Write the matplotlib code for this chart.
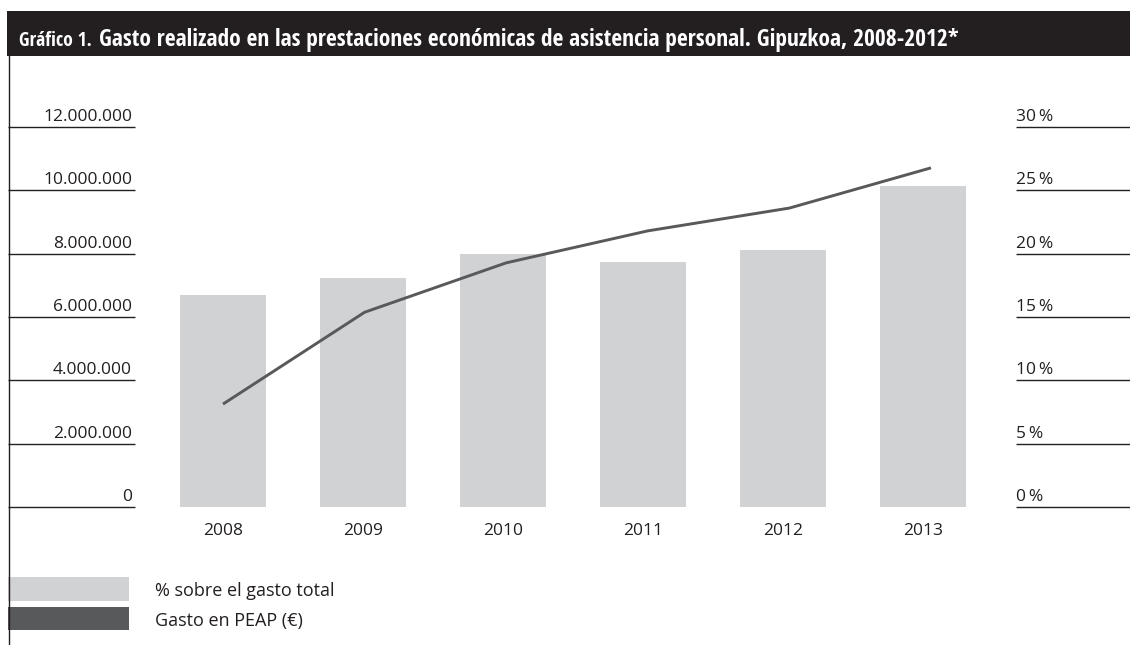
import matplotlib.pyplot as plt
from matplotlib import font_manager as fm
from matplotlib.patches import Rectangle
from matplotlib.lines import Line2D
from matplotlib.transforms import offset_copy

plt.rcParams['font.family'] = ['Open Sans', 'DejaVu Sans']

years = ['2008', '2009', '2010', '2011', '2012', '2013']
pct_total = [16.74, 18.08, 19.97, 19.34, 20.29, 25.34]
gasto_peap = [3250000, 6150000, 7710000, 8720000, 9440000, 10710000]

left_ticks = [0, 2000000, 4000000, 6000000, 8000000, 10000000, 12000000]
left_labels = ['0', '2.000.000', '4.000.000', '6.000.000', '8.000.000', '10.000.000', '12.000.000']
right_ticks = [0, 5, 10, 15, 20, 25, 30]
right_labels = ['0\u2009%', '5\u2009%', '10\u2009%', '15\u2009%', '20\u2009%', '25\u2009%', '30\u2009%']

title_small = 'Gráfico 1.'
title_main = 'Gasto realizado en las prestaciones económicas de asistencia personal. Gipuzkoa, 2008-2012*'
legend_labels = ['% sobre el gasto total', 'Gasto en PEAP (€)']

W, H = 1130, 645
ink = '#231f20'
bar_col = '#d1d2d4'
line_col = '#58595b'

# condensed face for the title if one is around
installed = {f.name for f in fm.fontManager.ttflist}
title_font = 'Open Sans'
for cand in ['Open Sans Condensed', 'Roboto Condensed', 'Liberation Sans Narrow',
             'Noto Sans Condensed', 'DejaVu Sans Condensed']:
    if cand in installed:
        title_font = cand
        break

fig = plt.figure(figsize=(W / 100, H / 100), dpi=100)

# plot area in pixels: x 8..1130, y 127 (top) .. 507 (zero)
y_top, y_zero = 127, 507
rect = [8 / W, (H - y_zero) / H, (W - 8) / W, (y_zero - y_top) / H]
ax = fig.add_axes(rect)
ax_line = fig.add_axes(rect)

# bars centred at pixel 223 + 140*i, line points at 223 + 141.6*i
c0, sp, sp_line = 223, 140, 141.6
ax.set_xlim((8 - c0) / sp, (W - c0) / sp)
ax_line.set_xlim((8 - c0) / sp_line, (W - c0) / sp_line)
x = list(range(len(years)))

ax.bar(x, pct_total, width=86 / sp, color=bar_col)
ax.set_ylim(0, 30)
ax_line.plot(x, gasto_peap, color=line_col, lw=2.1, solid_capstyle='butt')
ax_line.set_ylim(0, 12000000)

for a in (ax, ax_line):
    for s in a.spines.values():
        s.set_visible(False)
    a.set_xticks([])
    a.set_yticks([])
    a.patch.set_visible(False)

gl_a, gl_b = (8 - c0) / sp, (135 - c0) / sp
gr_a, gr_b = (1015.5 - c0) / sp, (W - c0) / sp
up = offset_copy(ax.transData, fig=fig, y=6, units='dots')
for t, lab in zip(right_ticks, left_labels):
    ax.hlines(t, gl_a, gl_b, color=ink, lw=1.0, clip_on=False)
    ax.text(gl_b - 3 / sp, t, lab, ha='right', va='baseline', fontsize=12.5,
            color=ink, transform=up)
for t, lab in zip(right_ticks, right_labels):
    ax.hlines(t, gr_a, gr_b, color=ink, lw=1.0, clip_on=False)
    ax.text(gr_a + 1 / sp, t, lab, ha='left', va='baseline', fontsize=12.5,
            color=ink, transform=up)

down = offset_copy(ax.transData, fig=fig, y=-28, units='dots')
for i, yr in enumerate(years):
    ax.text(i, 0, yr, ha='center', va='baseline', fontsize=12.5, color=ink,
            transform=down)

# title bar
fig.add_artist(Rectangle((7 / W, (H - 56) / H), (W - 7) / W, 45 / H,
                         transform=fig.transFigure, color=ink, lw=0))
t1 = fig.text(19 / W, (H - 46.5) / H, title_small, color='white', fontsize=11,
              fontweight='bold', va='baseline', family=title_font)
t2 = fig.text(99 / W, (H - 46.5) / H, title_main, color='white', fontsize=16,
              fontweight='bold', va='baseline', family=title_font)

# scale the title texts to the widths they take in the original
renderer = fig.canvas.get_renderer()
for txt, target in [(t1, 73), (t2, 858)]:
    w = txt.get_window_extent(renderer).width
    txt.set_fontsize(txt.get_fontsize() * target / w)

# left frame line
fig.add_artist(Line2D([8.5 / W, 8.5 / W], [0, (H - 56) / H], color=ink, lw=1.0))

# legend
for k, (lab, col) in enumerate(zip(legend_labels, [bar_col, line_col])):
    top = 577 + 29.5 * k
    fig.add_artist(Rectangle((8 / W, (H - top - 23.5) / H), 121 / W, 23.5 / H,
                             transform=fig.transFigure, color=col, lw=0))
    fig.text(155 / W, (H - top - 19.5) / H, lab, color=ink, fontsize=13,
             va='baseline')

fig.savefig('out.png', dpi=100)
